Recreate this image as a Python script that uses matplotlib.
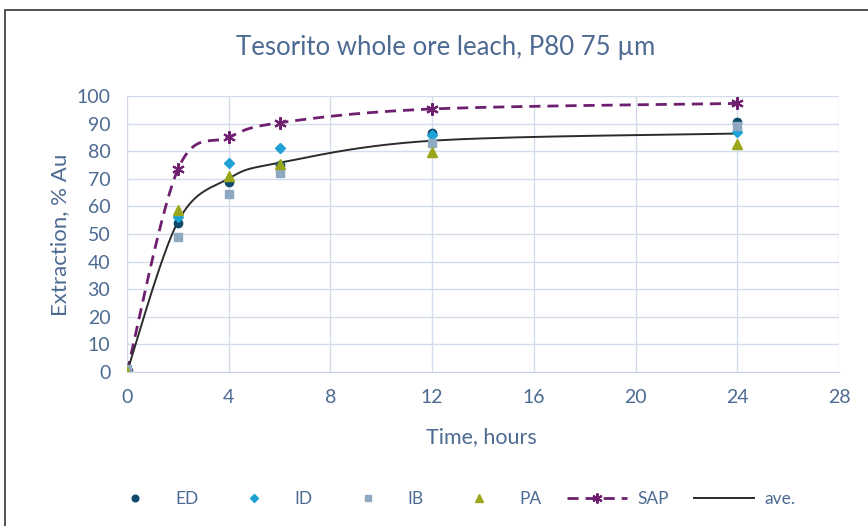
import numpy as np
import matplotlib
matplotlib.use("Agg")
import matplotlib.pyplot as plt
from matplotlib.patches import Rectangle
from matplotlib.lines import Line2D

# ---- data ----
time_h = [0, 2, 4, 6, 12, 24]
ED = [0, 54, 69, 75, 86.5, 90.7]
ID = [0.5, 56, 75.8, 81, 86, 87]
IB = [1, 49, 64.5, 72, 83, 89.2]
PA = [0, 58.7, 71, 75.2, 79.6, 82.5]
SAP = [0, 73.4, 85, 90.3, 95.3, 97.3]
AVE = [0, 54.4, 70.1, 75.8, 83.8, 86.4]

xticks = [0, 4, 8, 12, 16, 20, 24, 28]
yticks = list(range(0, 101, 10))

txt = "#4d6a92"
plt.rcParams['font.family'] = ['Lato', 'DejaVu Sans']


def smooth(x, y, n=40, tension=0.5):
    """Excel-like cardinal spline through points (drawing only)."""
    x = np.asarray(x, float)
    y = np.asarray(y, float)
    px, py = [], []
    m = len(x)
    for i in range(m - 1):
        x0, y0 = (x[i - 1], y[i - 1]) if i > 0 else (x[i], y[i])
        x3, y3 = (x[i + 2], y[i + 2]) if i + 2 < m else (x[i + 1], y[i + 1])
        x1, y1, x2, y2 = x[i], y[i], x[i + 1], y[i + 1]
        c1x = x1 + (x2 - x0) * tension / 3
        c1y = y1 + (y2 - y0) * tension / 3
        c2x = x2 - (x3 - x1) * tension / 3
        c2y = y2 - (y3 - y1) * tension / 3
        t = np.linspace(0, 1, n)
        bx = (1 - t) ** 3 * x1 + 3 * (1 - t) ** 2 * t * c1x + 3 * (1 - t) * t ** 2 * c2x + t ** 3 * x2
        by = (1 - t) ** 3 * y1 + 3 * (1 - t) ** 2 * t * c1y + 3 * (1 - t) * t ** 2 * c2y + t ** 3 * y2
        px.extend(bx)
        py.extend(by)
    return np.array(px), np.array(py)


fig = plt.figure(figsize=(8.68, 5.26), dpi=100)
fig.patches.append(Rectangle((5 / 868, -0.1), 1.2, 1 - 10 / 526 + 0.1,
                             transform=fig.transFigure, fill=False,
                             edgecolor="#333333", linewidth=1.2))
ax = fig.add_axes([127 / 868, 1 - 372 / 526, (839 - 127) / 868, (372 - 96) / 526])

ax.set_xlim(0, 28)
ax.set_ylim(0, 100)
ax.set_xticks(xticks)
ax.set_yticks(yticks)
ax.grid(True, color="#d3dcea", linewidth=1.0)
ax.set_axisbelow(True)
for s in ax.spines.values():
    s.set_visible(False)
ax.spines['bottom'].set_visible(True)
ax.spines['bottom'].set_color("#c9d3e2")
ax.tick_params(length=0, colors=txt, labelsize=14)
ax.tick_params(axis='x', pad=12)
ax.tick_params(axis='y', pad=12)

sap_col = "#6e1f6f"
sx, sy = smooth(time_h, SAP)
ax.plot(sx, sy, color=sap_col, linestyle=(0, (4, 2.5)), linewidth=2)
ax.plot(time_h, SAP, linestyle="none", marker=(6, 2, 0), markersize=9,
        markeredgecolor=sap_col, markeredgewidth=1.5)
avx, avy = smooth(time_h, AVE)
ax.plot(avx, avy, color="#2b2b2b", linewidth=1.4)

h_ed, = ax.plot(time_h, ED, linestyle="none", marker="o", markersize=6, color="#0f4a6a")
h_id, = ax.plot(time_h, ID, linestyle="none", marker="D", markersize=5, color="#1ea2d6")
h_ib, = ax.plot(time_h, IB, linestyle="none", marker="s", markersize=6, color="#8fa9c3")
h_pa, = ax.plot(time_h, PA, linestyle="none", marker="^", markersize=7, color="#9aa61b")

fig.text(481 / 868, 1 - 437 / 526, "Time, hours", color=txt, fontsize=15.5,
         ha="center", va="center")
fig.text(60 / 868, 1 - 235 / 526, "Extraction, % Au", color=txt, fontsize=16,
         ha="center", va="center", rotation=90)
fig.text(446 / 868, 1 - 48 / 526, "Tesorito whole ore leach, P80 75 \u00b5m",
         color=txt, fontsize=18.5, ha="center", va="center")

sap_handle = Line2D([], [], color=sap_col, linestyle=(0, (4, 2.5)),
                    linewidth=2, marker=(6, 2, 0), markersize=9,
                    markeredgecolor=sap_col, markeredgewidth=1.5)
ave_handle = Line2D([], [], color="#2b2b2b", linewidth=1.4)
leg = fig.legend([h_ed, h_id, h_ib, h_pa, sap_handle, ave_handle],
                 ["ED", "ID", "IB", "PA", "SAP", "ave."],
                 loc="center", bbox_to_anchor=(450 / 868, 1 - 499 / 526), ncol=6,
                 frameon=False, fontsize=12.5, handlelength=3.5, columnspacing=1.45,
                 handletextpad=0.55, markerscale=0.8, borderaxespad=0, borderpad=0)
for t in leg.get_texts():
    t.set_color(txt)

fig.savefig("out.png", dpi=100)
